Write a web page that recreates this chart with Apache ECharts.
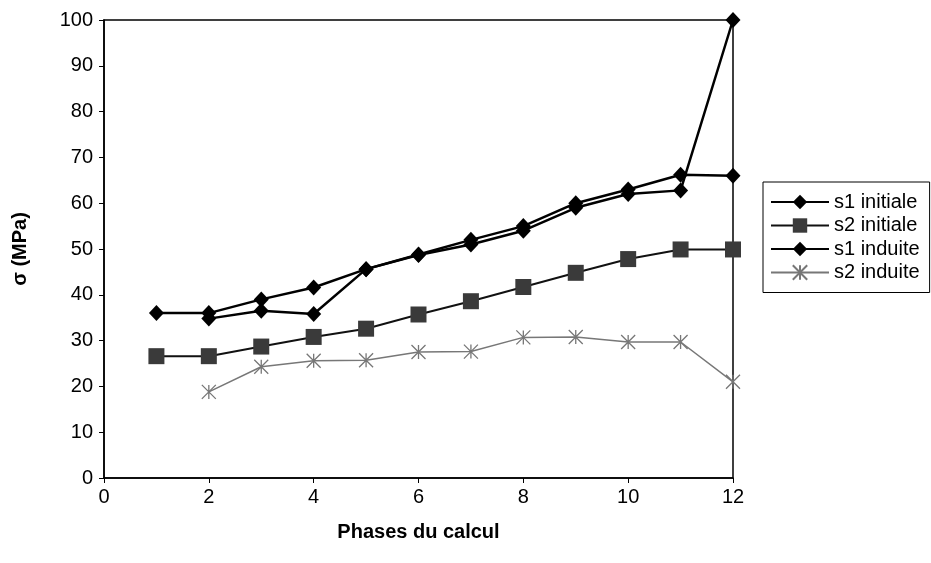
<!DOCTYPE html>
<html>
<head>
<meta charset="utf-8">
<script src="https://cdn.jsdelivr.net/npm/echarts@6/dist/echarts.min.js"></script>
<style>html,body{margin:0;padding:0;background:#fff;}#c{width:931px;height:563px;}</style>
</head>
<body>
<div id="c"></div>
<script>
var seriesNames = ['s1 initiale', 's2 initiale', 's1 induite', 's2 induite'];
var s1Initiale = [[1,36],[2,36],[3,39],[4,41.6],[5,45.6],[6,48.8],[7,52],[8,55],[9,60],[10,63],[11,66.2],[12,66]];
var s2Initiale = [[1,26.6],[2,26.6],[3,28.7],[4,30.8],[5,32.6],[6,35.7],[7,38.6],[8,41.7],[9,44.8],[10,47.8],[11,49.9],[12,49.9]];
var s1Induite = [[2,34.8],[3,36.5],[4,35.8],[5,45.6],[6,48.7],[7,51],[8,54],[9,59],[10,62],[11,62.8],[12,100]];
var s2Induite = [[2,18.8],[3,24.3],[4,25.6],[5,25.7],[6,27.5],[7,27.6],[8,30.7],[9,30.8],[10,29.7],[11,29.7],[12,21]];
var xTitle = 'Phases du calcul';
var yTitle = 'σ (MPa)';

var font = 'Liberation Sans, Arial, Helvetica, sans-serif';
var chart = echarts.init(document.getElementById('c'), null, {renderer: 'canvas'});
var crossPath = 'path://M0,0L10,10M10,0L0,10M5,0L5,10';
chart.setOption({
  animation: false,
  backgroundColor: '#fff',
  grid: {left: 104, right: 198, top: 20, bottom: 85, show: true, borderColor: '#000', borderWidth: 1.5, backgroundColor: 'transparent'},
  legend: {
    orient: 'vertical', left: 763, top: 182,
    itemWidth: 58, itemHeight: 18, itemGap: 3.5,
    padding: [10, 10, 10, 7],
    borderColor: '#000', borderWidth: 1,
    textStyle: {fontFamily: font, fontSize: 20, lineHeight: 20, color: '#000'},
    data: seriesNames
  },
  xAxis: {
    type: 'value', min: 0, max: 12, interval: 2,
    name: xTitle, nameLocation: 'middle', nameGap: 44,
    nameTextStyle: {fontFamily: font, fontSize: 20, fontWeight: 'bold', color: '#000'},
    axisLine: {lineStyle: {color: '#000', width: 1.5}},
    axisTick: {show: true, length: 5, lineStyle: {color: '#000'}},
    axisLabel: {fontFamily: font, fontSize: 20, color: '#000', margin: 9},
    splitLine: {show: false}
  },
  yAxis: {
    type: 'value', min: 0, max: 100, interval: 10,
    name: yTitle, nameLocation: 'middle', nameGap: 74,
    nameTextStyle: {fontFamily: font, fontSize: 20, fontWeight: 'bold', color: '#000'},
    axisLine: {show: true, lineStyle: {color: '#000', width: 1.5}},
    axisTick: {show: true, length: 5, lineStyle: {color: '#000'}},
    axisLabel: {fontFamily: font, fontSize: 20, color: '#000', margin: 11},
    splitLine: {show: false}
  },
  series: [
    {name: seriesNames[0], type: 'line', data: s1Initiale, symbol: 'diamond', symbolSize: [15, 16], clip: false,
     itemStyle: {color: '#000'}, lineStyle: {color: '#000', width: 2.5}, z: 4},
    {name: seriesNames[1], type: 'line', data: s2Initiale, symbol: 'rect', symbolSize: 16, clip: false,
     itemStyle: {color: '#3a3a3a'}, lineStyle: {color: '#111', width: 2}, z: 3},
    {name: seriesNames[2], type: 'line', data: s1Induite, symbol: 'diamond', symbolSize: [15, 16], clip: false,
     itemStyle: {color: '#000'}, lineStyle: {color: '#000', width: 2.5}, z: 4},
    {name: seriesNames[3], type: 'line', data: s2Induite, symbol: crossPath, symbolSize: 14, clip: false,
     itemStyle: {color: '#777', borderColor: '#777', borderWidth: 1.3}, lineStyle: {color: '#777', width: 1.5}, z: 2}
  ]
});
</script>
</body>
</html>
